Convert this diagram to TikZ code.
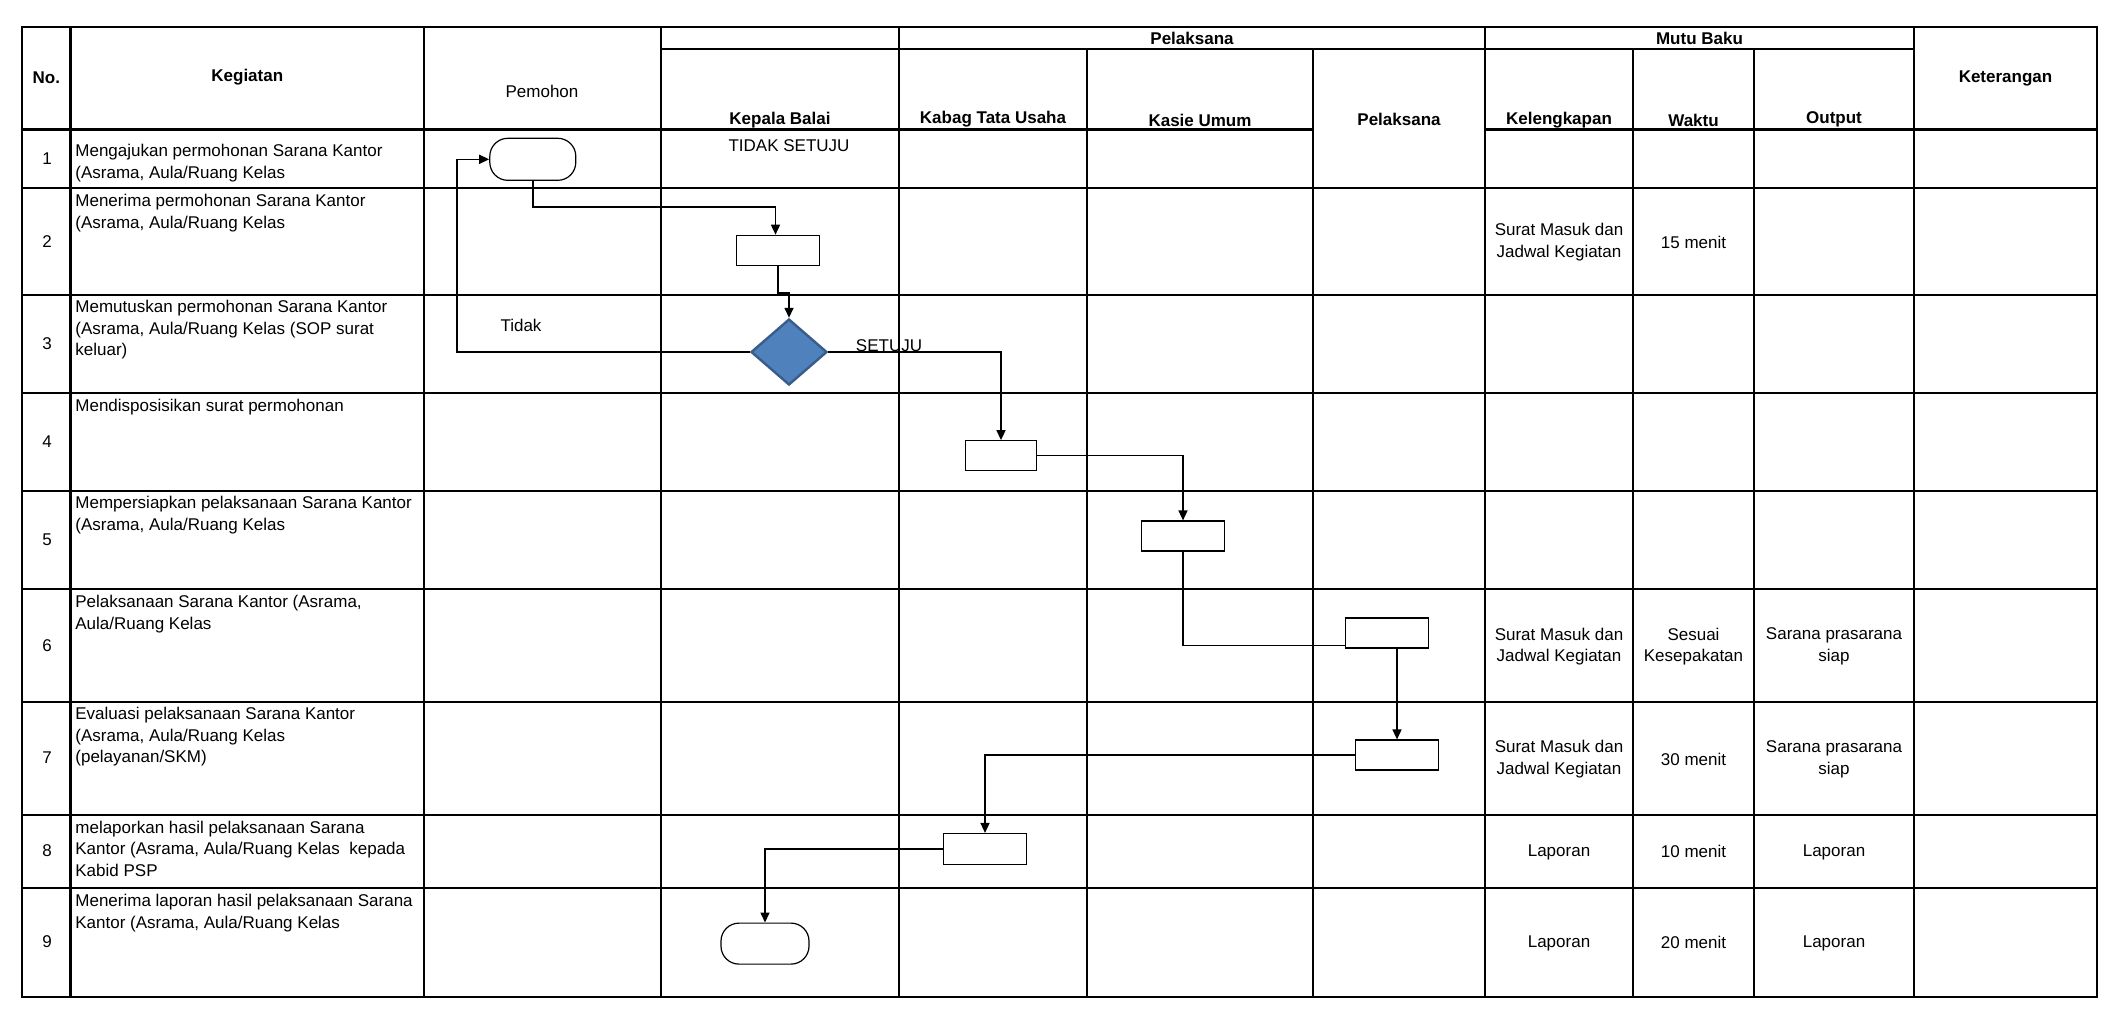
\documentclass[tikz,border=0pt]{standalone}
\usepackage{fontspec}
\setmainfont{Liberation Sans}
\usetikzlibrary{arrows.meta,shapes.geometric,calc}
\definecolor{diafill}{HTML}{4F81BD}
\definecolor{diaedge}{HTML}{385D8A}
\begin{document}
\begin{tikzpicture}[x=0.5pt,y=-0.5pt,
  every node/.style={font=\fontsize{8.5pt}{10.85pt}\selectfont, inner sep=0pt},
  grid/.style={line width=1.2pt},
  hd/.style={font=\fontsize{8.5pt}{10.85pt}\selectfont\bfseries},
  act/.style={anchor=north west, align=left},
  cell/.style={align=center},
  procbox/.style={draw, line width=0.6pt, minimum width=41.5pt, minimum height=15pt},
  term/.style={draw, line width=0.6pt, rounded corners=9pt, minimum width=43pt, minimum height=21pt},
  decision/.style={diamond, draw=diaedge, fill=diafill, line width=1.2pt, minimum width=38pt, minimum height=33pt},
  flow/.style={line width=0.75pt},
  arr/.style={flow, -{Triangle[length=5pt,width=4.5pt]}}
]
\useasboundingbox (0,0) rectangle (2118,1008);

% ---------- table grid ----------
\draw[grid] (22,27) rectangle (2097,997);
\foreach \x in {70.5,424,660.7,899,1485,1914} \draw[grid] (\x,27) -- (\x,997);
\foreach \x in {1087,1313,1633,1754} \draw[grid] (\x,49) -- (\x,997);
\draw[grid] (660.7,49) -- (1914,49);
\draw[grid] (22,129.3) -- (1313,129.3);
\draw[grid] (1485,129.3) -- (2097,129.3);
\foreach \y in {187.7,294.7,393,491,589,702,815,888} \draw[grid] (22,\y) -- (2097,\y);

% ---------- headers ----------
\node[hd] (hno) at (46.3,78) {No.};
\node[hd] (hkeg) at (247.3,77) {Kegiatan};
\node (hpem) at (542,91) {Pemohon};
\node[hd] (hpel) at (1192,38) {Pelaksana};
\node[hd] (hmutu) at (1699.5,38) {Mutu Baku};
\node[hd] (hket) at (2005.5,78) {Keterangan};
\node[hd] (hkb) at (780,120) {Kepala Balai};
\node[hd] (hkab) at (993,119) {Kabag Tata Usaha};
\node[hd] (hkas) at (1200,120) {Kasie Umum};
\node[hd] (hpl) at (1399,119) {Pelaksana};
\node[hd] (hkel) at (1559,120) {Kelengkapan};
\node[hd] (hwak) at (1693.5,120) {Waktu};
\node[hd] (hout) at (1834,119) {Output};

% ---------- numbers ----------
\node (n1) at (47,159) {1};
\node (n2) at (47,242) {2};
\node (n3) at (47,344) {3};
\node (n4) at (47,442) {4};
\node (n5) at (47,540) {5};
\node (n6) at (47,646) {6};
\node (n7) at (47,758) {7};
\node (n8) at (47,851) {8};
\node (n9) at (47,942) {9};

% ---------- activities ----------
\node[act] (a1) at (75,140.8) {\strut Mengajukan permohonan Sarana Kantor\\(Asrama, Aula/Ruang Kelas};
\node[act] (a2) at (75,190.8) {\strut Menerima permohonan Sarana Kantor\\(Asrama, Aula/Ruang Kelas};
\node[act] (a3) at (75,296.8) {\strut Memutuskan permohonan Sarana Kantor\\(Asrama, Aula/Ruang Kelas (SOP surat\\keluar)};
\node[act] (a4) at (75,395.8) {\strut Mendisposisikan surat permohonan};
\node[act] (a5) at (75,493.3) {\strut Mempersiapkan pelaksanaan Sarana Kantor\\(Asrama, Aula/Ruang Kelas};
\node[act] (a6) at (75,591.8) {\strut Pelaksanaan Sarana Kantor (Asrama,\\Aula/Ruang Kelas};
\node[act] (a7) at (75,703.8) {\strut Evaluasi pelaksanaan Sarana Kantor\\(Asrama, Aula/Ruang Kelas\\(pelayanan/SKM)};
\node[act] (a8) at (75,817.4) {\strut melaporkan hasil pelaksanaan Sarana\\Kantor (Asrama, Aula/Ruang Kelas\ \ kepada\\Kabid PSP};
\node[act] (a9) at (75,890.8) {\strut Menerima laporan hasil pelaksanaan Sarana\\Kantor (Asrama, Aula/Ruang Kelas};

% ---------- mutu baku cells ----------
\node[cell] (k2) at (1559,242) {Surat Masuk dan\\Jadwal Kegiatan};
\node[cell] (w2) at (1693.5,242) {15 menit};
\node[cell] (k6) at (1559,646.5) {Surat Masuk dan\\Jadwal Kegiatan};
\node[cell] (w6) at (1693.5,646.5) {Sesuai\\Kesepakatan};
\node[cell] (o6) at (1834,646.5) {Sarana prasarana\\siap};
\node[cell] (k7) at (1559,759) {Surat Masuk dan\\Jadwal Kegiatan};
\node[cell] (w7) at (1693.5,759) {30 menit};
\node[cell] (o7) at (1834,759) {Sarana prasarana\\siap};
\node[cell] (k8) at (1559,852) {Laporan};
\node[cell] (w8) at (1693.5,851) {10 menit};
\node[cell] (o8) at (1834,852) {Laporan};
\node[cell] (k9) at (1559,943) {Laporan};
\node[cell] (w9) at (1693.5,942) {20 menit};
\node[cell] (o9) at (1834,943) {Laporan};

% ---------- flow shapes ----------
\node[term] (start) at (532.8,159.3) {};
\node[procbox] (b2) at (778,250.3) {};
\node[decision] (dia) at (789,352) {};
\node[procbox, minimum width=35.5pt] (b4) at (1001,455.7) {};
\node[procbox] (b5) at (1183,536) {};
\node[procbox] (b6) at (1387,633) {};
\node[procbox] (b7) at (1397,755) {};
\node[procbox, minimum height=15.5pt] (b8) at (985,849) {};
\node[term, minimum width=44pt, minimum height=20.5pt] (fin) at (765,943.6) {};

% ---------- flow labels ----------
\node (ltidaksetuju) at (789,146) {TIDAK SETUJU};
\node (ltidak) at (521,325) {Tidak};
\node (lsetuju) at (889,346) {SETUJU};

% ---------- connectors ----------
\coordinate (k1) at (789,293);
\coordinate (kloop) at (457,352);
\draw[arr] (start.south) -- ++(0,26) -| ([xshift=-1.25pt]b2.north);
\draw[arr] (b2.south) |- (k1) -- (dia.north);
\draw[arr] (dia.west) -- (kloop) |- (start.west);
\draw[arr] (dia.east) -| (b4.north);
\draw[arr] (b4.east) -| (b5.north);
\draw[flow] (b5.south) |- ([yshift=1.5pt]b6.south west);
\draw[arr] (b7.north |- b6.south) -- (b7.north);
\draw[arr] (b7.west) -| (b8.north);
\draw[arr] (b8.west) -| (fin.north);
\end{tikzpicture}
\end{document}
